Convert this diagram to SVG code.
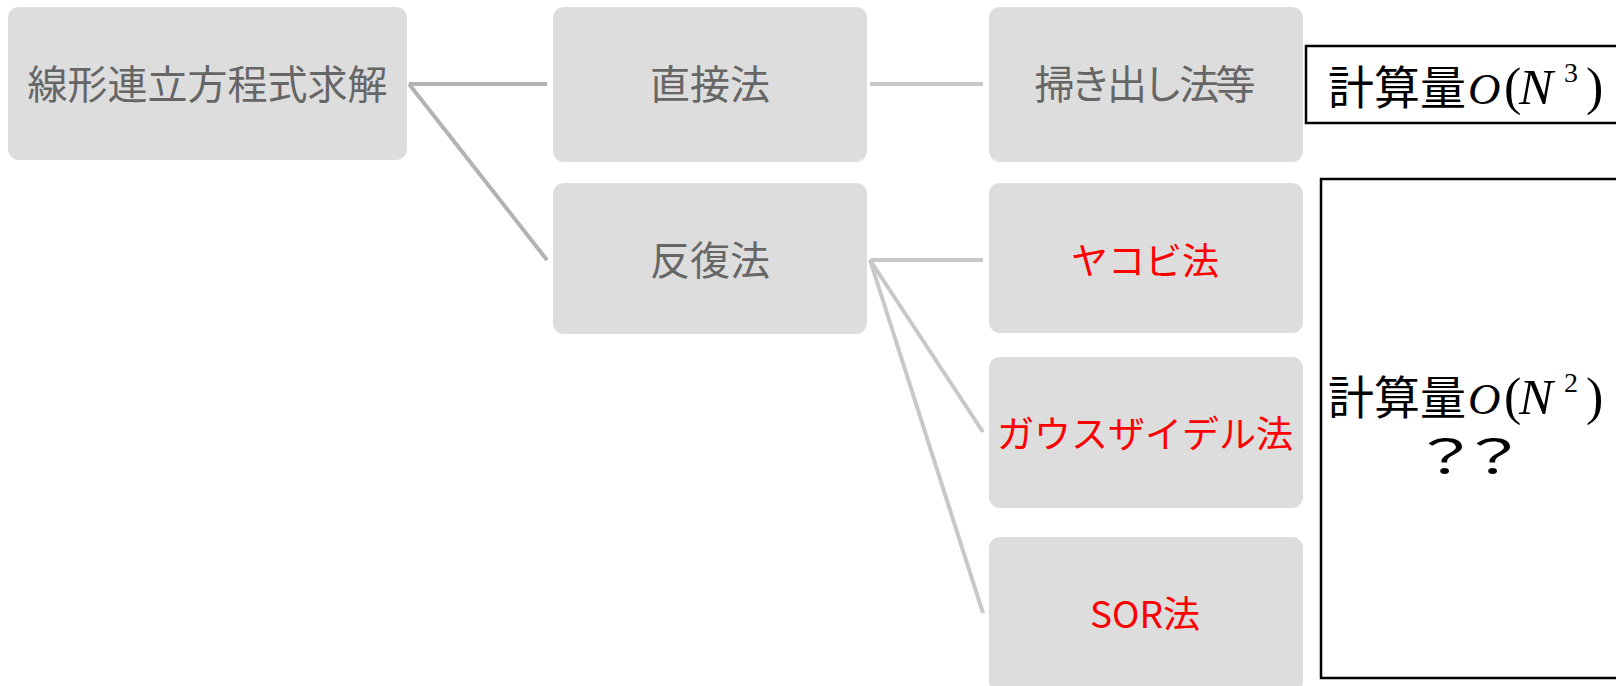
<svg xmlns="http://www.w3.org/2000/svg" width="1616" height="686" viewBox="0 0 1616 686">
<style>
.node rect{fill:#dddddd;}
.gt{font-family:"Noto Sans CJK JP","Noto Sans",sans-serif;font-size:40px;fill:#666666;text-anchor:middle;dominant-baseline:central;}
.rt{font-family:"Noto Sans CJK JP","Noto Sans",sans-serif;font-size:37px;fill:#ff0000;text-anchor:middle;dominant-baseline:central;}
.c1{stroke:#b3b3b3;stroke-width:4;fill:none;}
.c2{stroke:#c8c8c8;stroke-width:4;fill:none;}
.box{fill:#ffffff;stroke:#000000;stroke-width:2.5;}
.mt{font-family:"Noto Sans CJK JP","Noto Sans",sans-serif;font-size:46px;fill:#000000;}
.mi{font-family:"Liberation Serif",serif;font-style:italic;font-size:45px;}
.mn{font-family:"Liberation Serif",serif;font-style:italic;font-size:51px;}
.mp{font-family:"Liberation Serif",serif;font-size:52px;}
.ms{font-family:"Liberation Serif",serif;font-size:28px;}
</style>
<rect width="1616" height="686" fill="#ffffff"/>
<g id="connectors">
<path class="c1" d="M409,84 L547,84"/>
<path class="c1" d="M409,84 L547,260"/>
<path class="c2" d="M870,84 L983,84"/>
<path class="c2" d="M870,260 L983,260"/>
<path class="c2" d="M870,260 L983,432"/>
<path class="c2" d="M870,260 L983,613"/>
</g>
<g id="n-root" class="node"><rect x="8" y="7" width="399" height="153" rx="11"/><text class="gt" x="207.5" y="82">線形連立方程式求解</text></g>
<g id="n-direct" class="node"><rect x="553" y="7" width="314" height="155" rx="11"/><text class="gt" x="710" y="82">直接法</text></g>
<g id="n-iter" class="node"><rect x="553" y="183" width="314" height="151" rx="11"/><text class="gt" x="710" y="258">反復法</text></g>
<g id="n-sweep" class="node"><rect x="989" y="7" width="314" height="155" rx="11"/><text class="gt" x="1145" y="82" textLength="221" lengthAdjust="spacing">掃き出し法等</text></g>
<g id="n-jacobi" class="node"><rect x="989" y="183" width="314" height="150" rx="11"/><text class="rt" x="1145" y="259">ヤコビ法</text></g>
<g id="n-gs" class="node"><rect x="989" y="357" width="314" height="151" rx="11"/><text class="rt" x="1145" y="432">ガウスザイデル法</text></g>
<g id="n-sor" class="node"><rect x="989" y="537" width="314" height="155" rx="11"/><text class="rt" x="1145" y="612">SOR法</text></g>
<g id="note-n3"><rect class="box" x="1306" y="46" width="330" height="77"/>
<text class="mt" x="1328" y="104">計算量<tspan class="mi" x="1468">O</tspan><tspan class="mp" x="1504">(</tspan><tspan class="mn" x="1519">N</tspan><tspan class="ms" x="1564" y="82">3</tspan><tspan class="mp" x="1586" y="104">)</tspan></text></g>
<g id="note-n2"><rect class="box" x="1321" y="179" width="320" height="499"/>
<text class="mt" x="1328" y="414">計算量<tspan class="mi" x="1468">O</tspan><tspan class="mp" x="1504">(</tspan><tspan class="mn" x="1519">N</tspan><tspan class="ms" x="1564" y="392">2</tspan><tspan class="mp" x="1586" y="414">)</tspan></text>
<text class="mt" font-size="42" text-anchor="middle" transform="translate(1469.5,473) scale(1.5,1)"><tspan x="-16">？</tspan><tspan x="16">？</tspan></text></g>
</svg>
